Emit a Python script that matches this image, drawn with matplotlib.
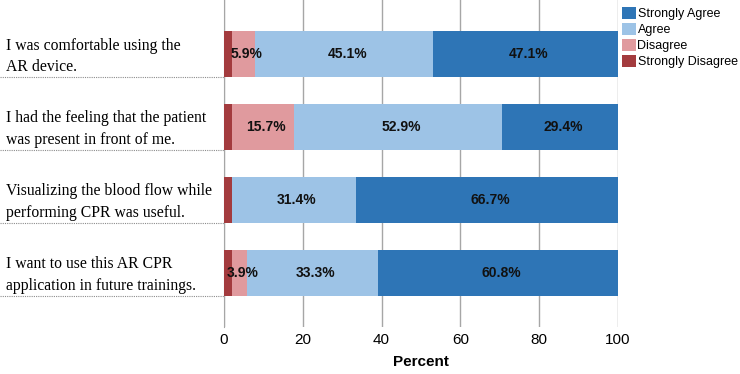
import matplotlib.pyplot as plt
import matplotlib.transforms as mtrans
from matplotlib.lines import Line2D
import numpy as np

questions = ["I was comfortable using the\nAR device.",
             "I had the feeling that the patient\nwas present in front of me.",
             "Visualizing the blood flow while\nperforming CPR was useful.",
             "I want to use this AR CPR\napplication in future trainings."]

categories = ["Strongly Disagree", "Disagree", "Agree", "Strongly Agree"]
strongly_disagree = [2.0, 2.0, 2.0, 2.0]
disagree = [5.9, 15.7, 0.0, 3.9]
agree = [45.1, 52.9, 31.4, 33.3]
strongly_agree = [47.1, 29.4, 66.7, 60.8]

colors = ["#A33B3E", "#E09A9E", "#9DC3E6", "#2E75B6"]

series = [strongly_disagree, disagree, agree, strongly_agree]

fig = plt.figure(figsize=(7.4, 3.74), dpi=100)
ax = fig.add_axes([224/740, 47/374, 394/740, 327/374])

y = np.arange(len(questions))
bar_h = 0.63
left = np.zeros(len(questions))
handles = []
for vals, name, c in zip(series, categories, colors):
    vals = np.array(vals)
    b = ax.barh(y, vals, left=left, height=bar_h, color=c, label=name, zorder=3)
    handles.append(b)
    if name != "Strongly Disagree":
        for yi, v, l in zip(y, vals, left):
            if v > 0:
                ax.text(l + v / 2 + 0.8, yi, f"{v:.1f}%", ha="center", va="center",
                        fontsize=10, fontweight="bold", family="Liberation Sans",
                        color="#111111", zorder=4)
    left += vals

ax.set_xlim(0, 100)
ax.set_ylim(3.74, -0.74)
ax.set_xticks([0, 20, 40, 60, 80, 100])
ax.set_yticks([])
ax.grid(axis="x", color="#A6A6A6", linewidth=1, zorder=0)
for s in ["top", "right", "bottom"]:
    ax.spines[s].set_visible(False)
ax.spines["left"].set_color("#A6A6A6")
ax.tick_params(axis="x", length=0, labelsize=11, pad=4)
for t in ax.get_xticklabels():
    t.set_family("Liberation Sans")
ax.set_xlabel("Percent", fontsize=11, fontweight="bold", family="Liberation Sans",
              labelpad=6)

# question labels, left-aligned at the figure edge
trans = mtrans.blended_transform_factory(fig.transFigure, ax.transData)
for yi, q in zip(y, questions):
    ax.text(6/740, yi + 0.03, q, transform=trans, ha="left", va="center",
            fontsize=11.3, family="Liberation Serif", linespacing=1.45, clip_on=False)
    ax.add_line(Line2D([0, 224/740], [yi + bar_h/2, yi + bar_h/2], transform=trans,
                       color="#8C8C8C", linestyle=(0, (1, 1)), linewidth=0.8,
                       clip_on=False))

leg = fig.legend(handles[::-1], categories[::-1], loc="upper left",
                 bbox_to_anchor=(615/740, 1.0), frameon=False,
                 prop={"family": "Liberation Sans", "size": 9},
                 handlelength=1.1, handleheight=1.1, handletextpad=0.15,
                 labelspacing=0.22, borderaxespad=0.35, borderpad=0.2)

fig.savefig("out.png", dpi=100)
